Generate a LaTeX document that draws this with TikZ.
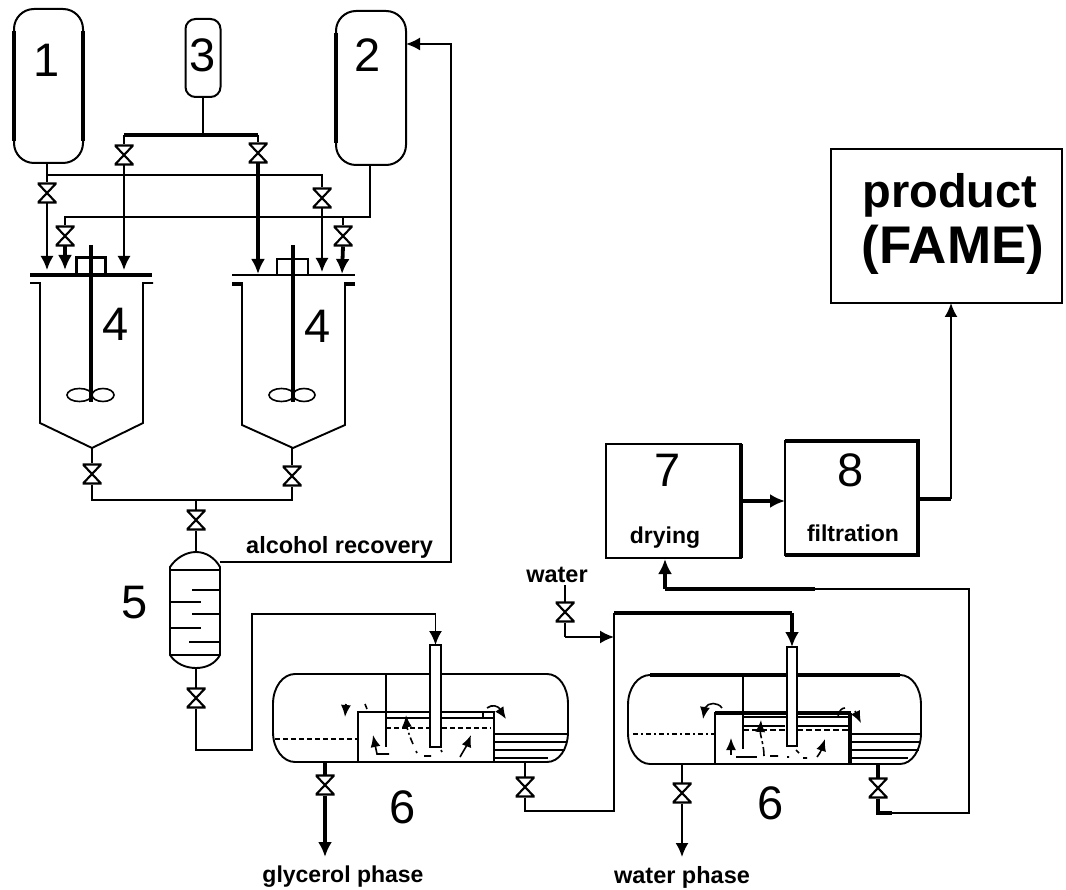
\documentclass[tikz,border=0pt]{standalone}
\usepackage{fontspec}
\setmainfont{Liberation Sans}
\usetikzlibrary{arrows.meta,calc}
\tikzset{
  ln/.style={line width=1.9pt,line join=miter},
  thk/.style={line width=3.8pt,line join=miter},
  arr/.style={ln,-{Latex[length=14pt,width=13pt]}},
  tarr/.style={thk,-{Latex[length=15pt,width=14pt]}},
  sarr/.style={line width=1.6pt,-{Latex[length=12pt,width=10pt]}},
  valve/.style={rectangle,inner sep=0pt,outer sep=0pt,minimum width=19pt,minimum height=21pt,
    path picture={\draw[line width=2.1pt]
      ([shift={(-9pt,9.5pt)}]path picture bounding box.center) --
      ([shift={(9pt,9.5pt)}]path picture bounding box.center) --
      ([shift={(-9pt,-9.5pt)}]path picture bounding box.center) --
      ([shift={(9pt,-9.5pt)}]path picture bounding box.center) -- cycle;}},
  tank/.style={draw,line width=2pt,rectangle,inner sep=0pt,outer sep=0pt},
  boxn/.style={draw,line width=1.9pt,rectangle,inner sep=0pt,outer sep=0pt},
  digit/.style={font=\fontsize{47}{47}\selectfont,inner sep=0pt},
  lab/.style={font=\fontsize{23}{24}\selectfont\bfseries,inner sep=0pt},
  big/.style={font=\fontsize{47}{47}\selectfont\bfseries,inner sep=0pt},
  bigger/.style={font=\fontsize{53}{53}\selectfont\bfseries,inner sep=0pt},
}
\begin{document}
\begin{tikzpicture}[x=1pt,y=-1pt]
\useasboundingbox (0,0) rectangle (1066,890);
% storage tanks
\node[tank,rounded corners=20pt,minimum width=69pt,minimum height=154pt] (t1) at (48.5,86) {};
\node[tank,rounded corners=10pt,minimum width=35pt,minimum height=78pt] (t3) at (203,58) {};
\node[tank,rounded corners=20pt,minimum width=70pt,minimum height=154pt] (t2) at (371,88) {};
\draw[line width=3.4pt] ($(t1.north west)+(0,22)$) -- ($(t1.south west)+(0,-22)$);
\draw[line width=3.4pt] ($(t1.north east)+(0,22)$) -- ($(t1.south east)+(0,-22)$);
\draw[line width=3.2pt] ($(t2.north west)+(0,22)$) -- ($(t2.south west)+(0,-22)$);
\node[digit] (n1) at (47,60) {1};
\node[digit] (n3) at (203,55) {3};
\node[digit] (n2) at (368,55) {2};
% valves at top
\node[valve] (v1) at (47,193) {};
\node[valve] (v2) at (65,236) {};
\node[valve] (v3) at (124,155) {};
\node[valve] (v4) at (258,153) {};
\node[valve] (v5) at (322,198) {};
\node[valve] (v6) at (343,236) {};
% junctions
\coordinate (h3) at (203,135);
\coordinate (hl) at (124,135);
\coordinate (hr) at (258,135);
\coordinate (j1) at (47,175);
\coordinate (j1r) at (322,175);
\coordinate (j2) at (370,217);
\coordinate (j2l) at (65,217);
\coordinate (j2r) at (343,217);
\coordinate (a1) at (47,270);
\coordinate (a2) at (65,270);
\coordinate (a3) at (124,270);
\coordinate (a4) at (258,274);
\coordinate (a5) at (322,272);
\coordinate (a6) at (342,274);
\draw[ln] (t3.south) -- (h3);
\draw[thk] (hl) -- (hr);
\draw[ln] (hl) -- (v3.north);
\draw[ln] (hr) -- (v4.north);
\draw[ln] (t1.south -| j1) -- (j1) -- (v1.north);
\draw[ln] (j1) -- (j1r) -- (v5.north);
\draw[ln] (t2.south -| j2) -- (j2) -- (j2l) -- (v2.north);
\draw[ln] (j2r) -- (v6.north);
\draw[arr] (v1.south) -- (a1);
\draw[tarr] (v2.south) -- (a2);
\draw[arr] (v3.south) -- (a3);
\draw[tarr] (v4.south) -- (a4);
\draw[arr] (v5.south) -- (a5);
\draw[tarr] (v6.south) -- (a6);
% reactor left
\draw[thk] (30,275) -- (152,275);
\node[boxn,line width=3pt,minimum width=29pt,minimum height=17pt] (m1) at (90.5,266.5) {};
\draw[thk] (91,245) -- (91,402);
\draw[ln] (30,283) -- (40,283) -- (40,423) -- (92,448) -- (143,423) -- (143,283) -- (153,283);
\draw[line width=1.6pt] (79.5,395) ellipse [x radius=12.5,y radius=6.5];
\draw[line width=1.6pt] (103,395) ellipse [x radius=11,y radius=6.5];
\node[digit] (n4a) at (116,324) {4};
% reactor right
\draw[ln] (232,275) -- (355,275);
\node[boxn,minimum width=31pt,minimum height=16pt] (m2) at (292.5,267) {};
\draw[thk] (293,245) -- (293,402);
\draw[ln] (242,284) -- (242,425) -- (293,448) -- (345,425) -- (345,284);
\draw[thk] (232,284) -- (243,284);
\draw[thk] (344,284) -- (355,284);
\draw[line width=1.6pt] (281.5,395) ellipse [x radius=12.5,y radius=6.5];
\draw[line width=1.6pt] (304,395) ellipse [x radius=11,y radius=6.5];
\node[digit] (n4b) at (318,326) {4};
% outlet manifold
\node[valve] (v7) at (92,474) {};
\node[valve] (v8) at (292,476) {};
\node[valve] (v9) at (196,520) {};
\coordinate (c1) at (92,448);
\coordinate (c2) at (292,448);
\coordinate (m3) at (196,500);
\draw[ln] (c1) -- (v7.north);
\draw[ln] (c2) -- (v8.north);
\draw[ln] (v7.south) -- (92,500) -- (292,500) -- (v8.south);
\draw[ln] (m3) -- (v9.north);
% column 5
\coordinate (colt) at (196,552);
\coordinate (colb) at (196,668);
\draw[ln] (v9.south) -- (colt);
\draw[ln] (170,567) .. controls (176,558) and (186,552) .. (colt) .. controls (206,552) and (215,558) .. (220,567)
  -- (220,655) .. controls (215,664) and (206,668) .. (colb) .. controls (186,668) and (176,664) .. (170,655) -- cycle;
\foreach \ya/\xa/\xb in {570/170/220,590/192/220,602/170/201,614/192/220,628/170/201,642/189/220,655/170/220}
  \draw[ln] (\xa,\ya) -- (\xb,\ya);
\node[digit] (n5) at (135,603) {5};
\node[lab,font=\fontsize{23.5}{24}\selectfont\bfseries,anchor=west] (lalc) at (246,547) {alcohol recovery};
\coordinate (r1) at (220,562);
\coordinate (r2) at (451,562);
\coordinate (r3) at (451,44);
\draw[arr] (r1) -- (r2) -- (r3) -- (t2.east |- r3);
\node[valve] (v10) at (196,698) {};
\draw[ln] (colb) -- (v10.north);
% first settler
\draw[ln] (295,674) -- (547,674) .. controls (559,674) and (568,687) .. (568,704) -- (568,732)
  .. controls (568,749) and (559,762) .. (547,762) -- (295,762)
  .. controls (283,762) and (273,749) .. (273,732) -- (273,704) .. controls (273,687) and (283,674) .. (295,674) -- cycle;
\node[boxn,fill=white,minimum width=136pt,minimum height=50pt] (b1) at (426,737) {};
\draw[ln] (386,674) -- (386,747);
\draw[ln] (386,718) -- (494,718);
\draw[ln] (483,712) -- (483,718);
\draw[line width=2.4pt,dash pattern=on 5pt off 3pt] (386,728) -- (491,728);
\draw[line width=2.4pt,dash pattern=on 5pt off 3pt] (275,739) -- (358,739);
\foreach \ya/\xb in {734/567,742/567,750/565,758/548}
  \draw[ln] (494,\ya) -- (\xb,\ya);
\node[boxn,fill=white,minimum width=11pt,minimum height=102pt] (tube1) at (435.5,696) {};
\draw[sarr] (389,754) -- (377,754) -- (373,735);
\draw[sarr,dash pattern=on 7pt off 3pt on 2pt off 3pt] (413,744) .. controls (409,735) and (407,728) .. (406,715);
\draw[line width=1.6pt] (416,751) -- (417,753) (424,756) -- (431,756) (441,750) -- (442,752);
\draw[sarr] (460,757) .. controls (464,750) and (467,745) .. (471,735);
\draw[sarr] (346,704) -- (345,717);
\draw[line width=1.6pt] (365,704) -- (367,709);
\draw[line width=1.6pt] (487,708) .. controls (492,704) and (498,706) .. (500,709);
\draw[sarr] (500,710) -- (506,719);
% lines to settler 1
\coordinate (p1) at (196,750);
\coordinate (p2) at (252,750);
\coordinate (p3) at (252,614);
\coordinate (p4) at (435.5,614);
\draw[ln] (v10.south) -- (p1) -- (p2) -- (p3) -- (p4);
\draw[arr] (p4) -- (tube1.north);
\node[valve] (v11) at (325,785) {};
\node[valve] (v12) at (525,787) {};
\coordinate (o1) at (325,762);
\coordinate (o2) at (525,762);
\coordinate (o3) at (325,857);
\draw[thk] (o1) -- (v11.north);
\draw[ln] (o2) -- (v12.north);
\draw[tarr] (v11.south) -- (o3);
\node[digit] (n6a) at (403,807) {6};
\node[lab] (lgly) at (343,877) {glycerol phase};
% second settler
\draw[ln] (650,675) .. controls (638,675) and (628,688) .. (628,705) -- (628,733)
  .. controls (628,750) and (638,764) .. (650,764) -- (900,764)
  .. controls (912,764) and (921,750) .. (921,733) -- (921,705) .. controls (921,688) and (912,675) .. (900,675);
\draw[line width=3.4pt] (650,675) -- (900,675);
\node[boxn,fill=white,minimum width=135pt,minimum height=51pt] (b2) at (782.5,738.5) {};
\draw[line width=3.4pt] (715,713) -- (851,713);
\draw[line width=3.4pt] (850,713) -- (850,764);
\draw[ln] (743,675) -- (743,749);
\draw[ln] (743,717) -- (850,717);
\draw[ln] (743,726) -- (785,726);
\draw[ln] (797,726) -- (850,726);
\draw[line width=1.8pt,dash pattern=on 6pt off 3pt] (743,730) -- (848,730);
\draw[line width=1.8pt,dash pattern=on 5pt off 3pt on 2pt off 3pt] (633,734) -- (715,734);
\foreach \ya/\xb in {734/920,742/920,750/919,758/908}
  \draw[ln] (850,\ya) -- (\xb,\ya);
\node[boxn,fill=white,minimum width=10pt,minimum height=99pt] (tube2) at (792,696.5) {};
\draw[sarr] (731,755) -- (731,738);
\draw[ln] (736,757) -- (757,757);
\draw[sarr,dash pattern=on 9pt off 3pt on 3pt off 3pt] (764,756) .. controls (764,745) and (760,735) .. (761,720);
\draw[line width=1.6pt] (770,756) -- (778,756) (787,757) -- (789,757) (796,750) -- (799,753) (803,758) -- (807,758);
\draw[sarr] (817,757) .. controls (821,752) and (822,748) .. (825,739);
\draw[line width=1.6pt] (722,708) .. controls (718,702) and (708,702) .. (705,708);
\draw[sarr] (705,707) -- (703,719);
\draw[line width=1.6pt] (838,717) .. controls (839,710) and (842,708) .. (845,708);
\draw[sarr] (855,711) -- (861,723);
% lines around settler 2
\node[valve] (v13) at (565,612) {};
\node[lab,font=\fontsize{23.5}{24}\selectfont\bfseries] (lwat) at (557,575) {water};
\coordinate (w0) at (565,585);
\coordinate (w1) at (565,637);
\coordinate (w2) at (614,637);
\coordinate (q1) at (525,811);
\coordinate (q2) at (614,811);
\coordinate (q3) at (614,613);
\coordinate (q4) at (792,613);
\draw[ln] (w0) -- (v13.north);
\draw[ln] (v13.south) -- (w1);
\draw[arr] (w1) -- (w2);
\draw[ln] (v12.south) -- (q1) -- (q2) -- (w2);
\draw[ln] (q2) -- (q3);
\draw[thk] (q3) -- (q4);
\draw[tarr] (q4) -- (tube2.north);
\node[valve] (v14) at (682,793) {};
\node[valve] (v15) at (878,788) {};
\coordinate (o4) at (682,764);
\coordinate (o5) at (878,764);
\coordinate (o6) at (682,857);
\draw[ln] (o4) -- (v14.north);
\draw[thk] (o5) -- (v15.north);
\draw[arr] (v14.south) -- (o6);
\node[digit] (n6b) at (771,803) {6};
\node[lab,font=\fontsize{23.5}{24}\selectfont\bfseries] (lwph) at (682,877) {water phase};
% drying, filtration, product
\node[boxn,minimum width=135pt,minimum height=114pt] (b7) at (673.5,501) {};
\draw[line width=3.4pt] (b7.north east) -- (b7.south east);
\node[boxn,minimum width=133pt,minimum height=114pt] (b8) at (851.5,498) {};
\draw[thk] (b8.north west) -- (b8.north east) -- (b8.south east) -- (b8.south west);
\node[digit] (n7) at (668,470) {7};
\node[digit] (n8) at (851,470) {8};
\node[lab] (ldry) at (665,538) {drying};
\node[lab] (lfil) at (853,533) {filtration};
\node[boxn,minimum width=231pt,minimum height=154pt] (b9) at (946.5,226) {};
\node[big] (lpro) at (950,195) {product};
\node[bigger] (lfam) at (953,250) {(FAME)};
\coordinate (e1) at (741,501);
\coordinate (e2) at (785,501);
\draw[tarr] (e1) -- (e2);
\coordinate (f1) at (918,499);
\coordinate (f2) at (951,499);
\draw[thk] (f1) -- (f2);
\draw[arr] (f2) -- (b9.south -| f2);
\coordinate (g1) at (878,813);
\coordinate (g2) at (969,813);
\coordinate (g3) at (969,589);
\coordinate (g4) at (815,589);
\coordinate (g5) at (665,589);
\coordinate (g6) at (665,559);
\coordinate (g7) at (892,813);
\draw[thk] (v15.south) -- (g1) -- (g7);
\draw[ln] (g7) -- (g2) -- (g3) -- (g4);
\draw[thk] (g4) -- (g5);
\draw[tarr] (g5) -- (g6);
\end{tikzpicture}
\end{document}
